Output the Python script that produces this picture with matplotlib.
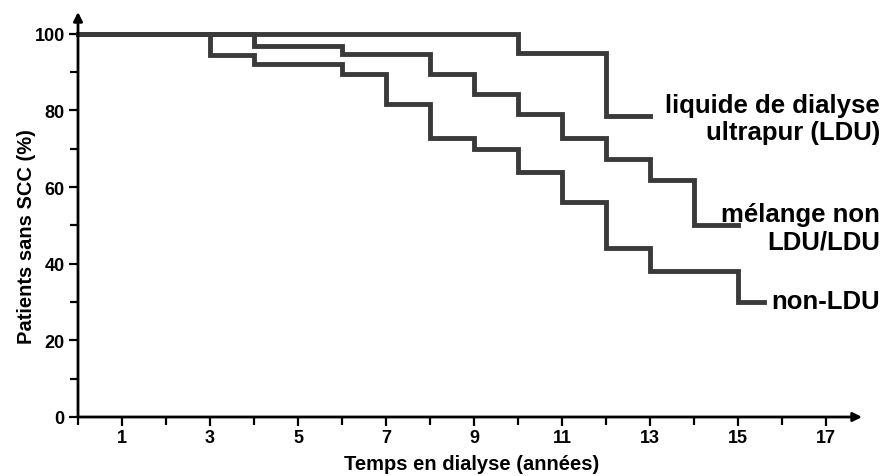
import matplotlib
matplotlib.use("Agg")
import matplotlib.pyplot as plt

# ---- data ----
ldu_t = [0, 10, 12, 13]
ldu_s = [100, 95, 78.5, 78.5]

mix_t = [0, 4, 6, 8, 9, 10, 11, 12, 13, 14, 15]
mix_s = [100, 96.7, 94.8, 89.5, 84.2, 79, 72.7, 67.3, 61.8, 50, 50]

non_t = [0, 3, 4, 6, 7, 8, 9, 10, 11, 12, 13, 15, 15.6]
non_s = [100, 94.5, 92, 89.5, 81.7, 72.7, 69.9, 63.9, 56, 44, 38.2, 30, 30]

x_major = [1, 3, 5, 7, 9, 11, 13, 15, 17]
x_minor = [0, 2, 4, 6, 8, 10, 12, 14, 16]
y_major = [0, 20, 40, 60, 80, 100]
y_minor = [10, 30, 50, 70, 90]

label_lines = ["liquide de dialyse", "ultrapur (LDU)", "mélange non", "LDU/LDU", "non-LDU"]
label_base = [79.6, 72.6, 51.2, 44.1, 28.4]

xlabel = "Temps en dialyse (années)"
ylabel = "Patients sans SCC (%)"

plt.rcParams['font.family'] = ['Liberation Sans', 'DejaVu Sans']
plt.rcParams['font.weight'] = 'bold'

fig = plt.figure(figsize=(8.84, 4.77), dpi=100)
W, H = 884, 477
ax = fig.add_axes([78 / W, (H - 418) / H, (862 - 78) / W, (418 - 13) / H])
ax.set_xlim(0, 17.82)
ax.set_ylim(0, 105.7)

lc = '#3a3a3a'
for t, s in [(ldu_t, ldu_s), (mix_t, mix_s), (non_t, non_s)]:
    ax.step(t, s, where='post', color=lc, lw=3.5, solid_joinstyle='miter', clip_on=False)

for sp in ax.spines.values():
    sp.set_visible(False)

ap = dict(arrowstyle='-|>', lw=2.0, color='k', mutation_scale=13, shrinkA=0, shrinkB=0)
ax.annotate('', xy=(0, 1.0), xytext=(0, 0), xycoords='axes fraction', arrowprops=ap)
ax.annotate('', xy=(1.0, 0), xytext=(0, 0), xycoords='axes fraction', arrowprops=ap)

ax.set_xticks(x_major)
ax.set_xticks(x_minor, minor=True)
ax.set_yticks(y_major)
ax.set_yticks(y_minor, minor=True)
ax.tick_params(axis='both', which='both', direction='out', width=1.6, color='k')
ax.tick_params(axis='x', which='major', length=6.5, pad=2.5, labelsize=13)
ax.tick_params(axis='x', which='minor', length=6)
ax.tick_params(axis='y', which='major', length=6.5, pad=3, labelsize=13)
ax.tick_params(axis='y', which='minor', length=6)
for lab in ax.get_xticklabels() + ax.get_yticklabels():
    lab.set_fontweight('bold')

ax.set_xlabel(xlabel, fontsize=14.5, fontweight='bold')
ax.set_ylabel(ylabel, fontsize=14.5, fontweight='bold')
ax.xaxis.set_label_coords(0.5026, -0.092)
ax.yaxis.set_label_coords(-0.054, 0.447)

for txt, y in zip(label_lines, label_base):
    ax.text(18.23, y, txt, ha='right', va='baseline',
            fontsize=18.5, fontweight='bold', clip_on=False)

fig.savefig('out.png', dpi=100)
